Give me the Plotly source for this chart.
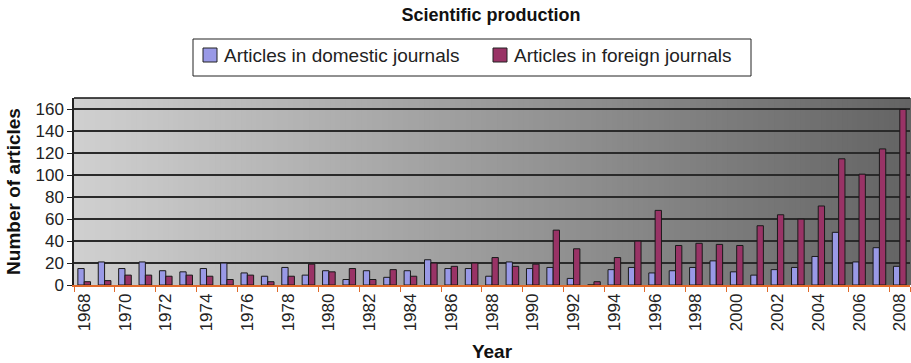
import plotly.graph_objects as go

years = list(range(1968, 2009))
domestic = [15, 21, 15, 21, 13, 12, 15, 20, 11, 8, 16, 9,
            13, 5, 13, 7, 13, 23, 15, 15, 8, 21, 15, 16, 6, 0, 14,
            16, 11, 13, 16, 22, 12, 9, 14, 16, 26, 48, 21, 34, 17]
foreign = [3, 4, 9, 9, 8, 9, 8, 5, 9, 3, 8, 19,
           12, 15, 5, 14, 8, 20, 17, 20, 25, 17, 19, 50, 33, 3, 25,
           40, 68, 36, 38, 37, 36, 54, 64, 60, 72, 115, 101, 124, 160]
series_names = ["Articles in domestic journals", "Articles in foreign journals"]
series_colors = ["#9999E6", "#993366"]
tick_years = list(range(1968, 2009, 2))
y_ticks = list(range(0, 161, 20))

FONT = "Liberation Sans, Arial, sans-serif"
W, H = 911, 363
L, R, T, B = 74, 1, 98, 78
PW, PH = W - L - R, H - T - B


def px_x(px):
    return (px - L) / PW


def px_y(py):
    return (H - B - py) / PH


fig = go.Figure()
for vals, name, color in zip([domestic, foreign], series_names, series_colors):
    fig.add_trace(go.Bar(x=years, y=vals, name=name, showlegend=False,
                         marker=dict(color=color, line=dict(color="#1a1a1a", width=1))))

# horizontal grey gradient behind the plot area
shapes = []
n = 160
c0, c1 = 208, 100
for i in range(n):
    t = (i + 0.5) / n
    c = round(c0 + (c1 - c0) * t)
    shapes.append(dict(type="rect", xref="x domain", yref="y domain",
                       x0=i / n, x1=(i + 1) / n + 0.002, y0=0, y1=1,
                       fillcolor=f"rgb({c},{c},{c})", line=dict(width=0),
                       layer="below"))
shapes.append(dict(type="line", xref="x domain", yref="y domain",
                   x0=0, x1=1, y0=1, y1=1, line=dict(color="#111", width=1.5)))

# legend box with swatches
annotations = []
shapes.append(dict(type="rect", xref="paper", yref="paper",
                   x0=px_x(193), x1=px_x(751), y0=px_y(76), y1=px_y(39),
                   fillcolor="white", line=dict(color="#222", width=1)))
for sx, name, color in zip([203, 493], series_names, series_colors):
    shapes.append(dict(type="rect", xref="paper", yref="paper",
                       x0=px_x(sx), x1=px_x(sx + 14), y0=px_y(62), y1=px_y(48),
                       fillcolor=color, line=dict(color="#222", width=1)))
    annotations.append(dict(text=name, xref="paper", yref="paper",
                            x=px_x(sx + 19), y=px_y(55.5), xanchor="left", yanchor="middle",
                            showarrow=False, font=dict(size=19, color="#222")))

fig.update_layout(
    width=W, height=H,
    margin=dict(l=L, r=R, t=T, b=B),
    paper_bgcolor="white", plot_bgcolor="rgba(0,0,0,0)",
    font=dict(family=FONT, size=17, color="#222"),
    barmode="group", bargap=0.38, bargroupgap=0,
    shapes=shapes, annotations=annotations,
    title=dict(text="<b>Scientific production</b>", font=dict(size=18, color="#111"),
               x=491 / W, xanchor="center", xref="container",
               y=1 - 15 / H, yanchor="middle", yref="container"),
    showlegend=False,
)

fig.update_xaxes(
    range=[1967.5, 2008.5], tickmode="array", tickvals=tick_years,
    ticktext=[str(y) for y in tick_years], tickangle=-90, ticks="",
    tickfont=dict(size=17, color="#222"),
    showline=True, linecolor="#e06a2a", linewidth=1.5, showgrid=False,
    minor=dict(tickmode="array", tickvals=[y - 0.5 for y in tick_years] + [2008.5],
               ticks="outside", ticklen=5, tickcolor="#e06a2a", showgrid=False),
    title=dict(text="<b>Year</b>", font=dict(size=19, color="#111"), standoff=14),
    zeroline=False,
)
fig.update_yaxes(
    range=[0, 170.4], tickmode="array", tickvals=y_ticks, ticks="outside",
    ticklen=5, tickcolor="#222", tickfont=dict(size=17, color="#222"),
    showline=True, linecolor="#222", linewidth=1.5,
    showgrid=True, gridcolor="#2a2a2a", gridwidth=1.5, zeroline=False,
    title=dict(text="<b>Number of articles</b>", font=dict(size=19, color="#111"), standoff=10),
)

fig.write_html("out.html")
